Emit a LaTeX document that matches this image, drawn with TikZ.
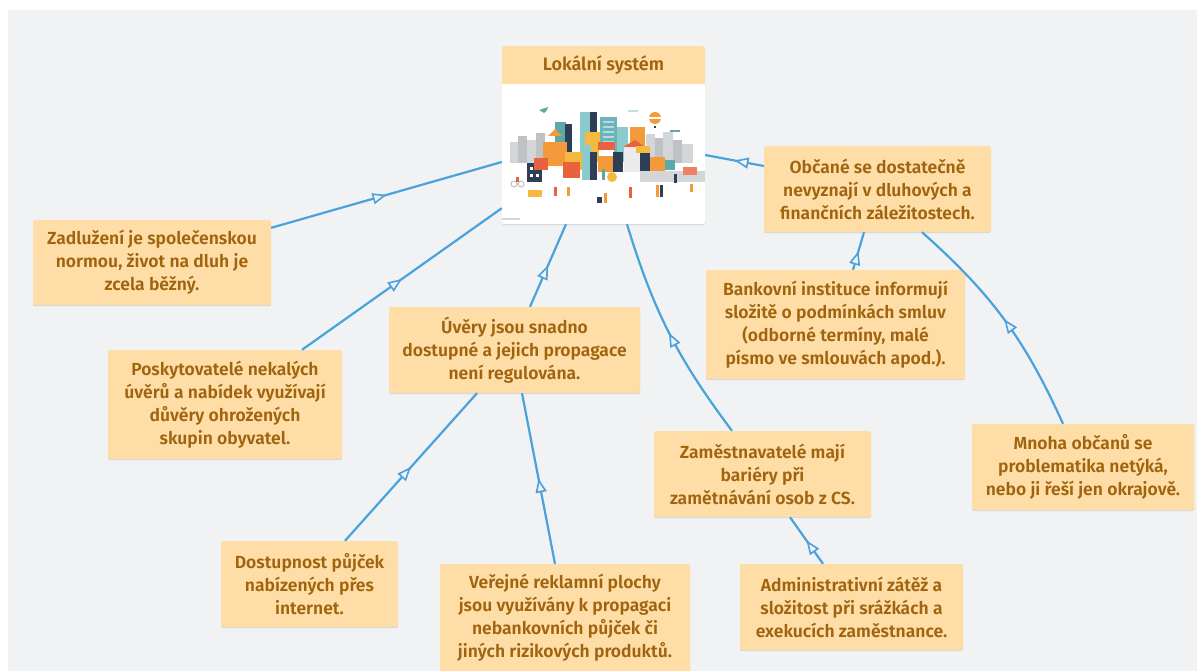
\documentclass[tikz,border=0pt]{standalone}
\usepackage{fontspec}
\setmainfont{Fira Sans}[BoldFont={Fira Sans SemiBold}]
\usetikzlibrary{arrows.meta,decorations.markings,shadows,calc}
\definecolor{bggrey}{HTML}{F1F2F4}
\definecolor{boxfill}{HTML}{FEDDA6}
\definecolor{txtc}{HTML}{A0640F}
\definecolor{edgec}{HTML}{4AA2DC}
\definecolor{teal1}{HTML}{5FA7A9}
\definecolor{teal2}{HTML}{8CCBCD}
\definecolor{teal3}{HTML}{6BB5BA}
\definecolor{navy}{HTML}{2E3F55}
\definecolor{orng}{HTML}{F39A3B}
\definecolor{redo}{HTML}{E8623D}
\definecolor{yell}{HTML}{F5B93F}
\definecolor{lgrey}{HTML}{D3D5D8}
\definecolor{mgrey}{HTML}{BFC1C4}
\tikzset{
  card/.style={rectangle, rounded corners=2pt, fill=boxfill, text=txtc,
    font=\fontsize{17.5}{23}\selectfont\bfseries, align=center, inner sep=0pt,
    drop shadow={shadow xshift=0pt, shadow yshift=-1.2pt, opacity=0.18, fill=black!60}},
  link/.style={draw=edgec, line width=2.2pt, postaction={decorate},
    decoration={markings, mark=at position 0.5 with {\arrow[edgec,line width=1.6pt]{Triangle[length=14pt,width=11pt,fill=bggrey]}}}},
}
\begin{document}
\begin{tikzpicture}[x=1pt,y=-1pt]
\useasboundingbox (0,0) rectangle (1197,671);
\fill[white] (0,0) rectangle (1197,671);
\fill[bggrey] (8,10) rectangle (1197,671);

% centre node
\node[rectangle, rounded corners=2pt, fill=white, minimum width=203pt, minimum height=178pt, inner sep=0pt,
  drop shadow={shadow xshift=0pt, shadow yshift=-1.2pt, opacity=0.18, fill=black!60}] (ctr) at (603.5,135) {};
\fill[boxfill, rounded corners=2pt] (502,46) rectangle (705,90);
\fill[boxfill] (502,70) rectangle (705,84);
\fill[white] (502,84) rectangle (705,92);
\node[text=txtc, font=\fontsize{18}{22}\selectfont\bfseries, inner sep=0pt] (ttl) at (603.5,65) {Lokální systém};

% city illustration
\begin{scope}
  % background grey buildings
  \fill[lgrey] (510,142) rectangle (518,163);
  \fill[mgrey] (518,136) rectangle (527,163);
  \fill[lgrey] (527,140) rectangle (536,163);
  \fill[mgrey] (536,133) rectangle (545,163);
  \fill[lgrey] (646,134) rectangle (655,163);
  \fill[mgrey] (655,138) rectangle (663,163);
  \fill[lgrey] (663,132) rectangle (673,163);
  \fill[mgrey] (673,140) rectangle (682,163);
  \fill[lgrey] (682,144) rectangle (693,163);
  % tall towers
  \fill[teal1] (555,122) rectangle (566,162);
  \fill[navy] (565,124) rectangle (572,162);
  \fill[teal2] (580,112) rectangle (592,162);
  \fill[navy] (590,112) rectangle (597,162);
  \fill[teal3] (600,117) rectangle (617,162);
  \foreach \yy in {121,126,...,156} {\fill[white,opacity=0.5] (603,\yy) rectangle (614,\yy+2);}
  \fill[teal2] (617,127) rectangle (628,162);
  \fill[orng] (630,127) rectangle (645,162);
  \fill[yell] (585,132) rectangle (600,162);
  \fill[orng] (543,142) rectangle (567,166);
  \fill[orng] (548,136) -- (555,129) -- (562,136) -- cycle;
  % front houses
  \fill[navy] (527,163) rectangle (542,182);
  \foreach \xx in {530,536} {\fill[white] (\xx,167) rectangle (\xx+3,170); \fill[white] (\xx,174) rectangle (\xx+3,177);}
  \fill[redo] (534,158) rectangle (548,170);
  \fill[yell] (565,152) rectangle (582,170);
  \fill[redo] (563,162) rectangle (580,178);
  \fill[teal2] (582,145) rectangle (591,180);
  \fill[navy] (590,152) rectangle (597,180);
  \fill[redo] (598,142) rectangle (615,150);
  \fill[white] (599,150) rectangle (614,156);
  \fill[orng] (598,156) rectangle (613,172);
  \fill[navy] (613,152) rectangle (623,172);
  \fill[redo] (623,147) -- (635,140) -- (645,147) -- cycle;
  \fill[white!92!black] (624,147) rectangle (642,172);
  \fill[yell] (636,146) rectangle (650,153);
  \fill[navy] (640,153) rectangle (650,172);
  \fill[orng] (650,157) rectangle (665,173);
  \fill[teal1] (665,160) rectangle (675,170);
  % road
  \fill[lgrey] (640,171) rectangle (705,182);
  \fill[redo!80] (683,167) rectangle (697,175);
  % sky items
  \fill[orng] (655,118) circle (6);
  \fill[white] (649,117) rectangle (661,119);
  \fill[navy] (654,126) rectangle (656,128);
  \fill[teal1] (539,110) -- (548,107) -- (547,110) -- (544,113) -- cycle;
  \fill[teal2!60] (628,110) rectangle (638,112);
  \fill[teal1] (670,130) rectangle (680,132);
  % people, cars, trees
  \draw[mgrey, line width=1pt] (514,184) circle (3) (521,184) circle (3);
  \fill[redo] (516,177) rectangle (519,182);
  \fill[yell] (528,190) rectangle (542,197);
  \fill[redo] (554,187) rectangle (557,196);
  \fill[orng] (567,187) rectangle (570,196);
  \fill[navy] (597,197) rectangle (602,203);
  \fill[orng] (604,193) rectangle (607,203);
  \fill[yell] (612,177) circle (5);
  \fill[teal1] (602,169) rectangle (605,180);
  \fill[redo] (629,187) rectangle (632,198);
  \fill[orng] (656,185) rectangle (659,197);
  \fill[navy] (660,185) rectangle (663,197);
  \fill[navy] (674,174) rectangle (677,183);
  \fill[orng] (690,184) rectangle (693,192);
  \fill[lgrey] (502,218) rectangle (520,220);
\end{scope}

% cards
\node[card, minimum width=238pt, minimum height=85pt] (zad) at (152,262.5)
  {Zadlužení je společenskou\\normou, život na dluh je\\zcela běžný.};
\node[card, minimum width=234pt, minimum height=109pt] (posk) at (225,404.5)
  {Poskytovatelé nekalých\\úvěrů a nabídek využívají\\důvěry ohrožených\\skupin obyvatel.};
\node[card, minimum width=251pt, minimum height=86pt] (uver) at (514.5,350)
  {Úvěry jsou snadno\\dostupné a jejich propagace\\není regulována.};
\node[card, minimum width=177pt, minimum height=86pt] (dost) at (309.5,584)
  {Dostupnost půjček\\nabízených přes\\internet.};
\node[card, minimum width=250pt, minimum height=108pt] (ver) at (565,618)
  {Veřejné reklamní plochy\\jsou využívány k propagaci\\nebankovních půjček či\\jiných rizikových produktů.};
\node[card, minimum width=217pt, minimum height=86pt] (zam) at (762.5,474)
  {Zaměstnavatelé mají\\bariéry při\\zamětnávání osob z CS.};
\node[card, minimum width=223pt, minimum height=86pt] (adm) at (851.5,607)
  {Administrativní zátěž a\\složitost při srážkách a\\exekucích zaměstnance.};
\node[card, minimum width=227pt, minimum height=86pt] (obc) at (877.5,189)
  {Občané se dostatečně\\nevyznají v dluhových a\\finančních záležitostech.};
\node[card, minimum width=259pt, minimum height=109pt] (bank) at (835.5,324.5)
  {Bankovní instituce informují\\složitě o podmínkách smluv\\(odborné termíny, malé\\písmo ve smlouvách apod.).};
\node[card, minimum width=222pt, minimum height=86pt] (mnoha) at (1083,467)
  {Mnoha občanů se\\problematika netýká,\\nebo ji řeší jen okrajově.};

% connectors
\draw[link] ([yshift=-8pt]zad.north east) -- ([yshift=-27pt]ctr.west);
\draw[link] ([xshift=77pt]posk.north) -- ([yshift=16pt]ctr.south west);
\draw[link] ([xshift=15.5pt]uver.north) -- ([xshift=-37.5pt]ctr.south);
\draw[link] ([xshift=35.5pt]dost.north) -- ([xshift=-37.5pt]uver.south);
\draw[link] ([xshift=-10pt]ver.north) -- ([xshift=7.5pt]uver.south);
\draw[link] ([xshift=-30.5pt]zam.north) to[bend left=10] ([xshift=23.5pt]ctr.south);
\draw[link] ([xshift=-28.5pt]adm.north) -- ([xshift=27.5pt]zam.south);
\draw[link] ([yshift=23pt]obc.west) -- ([yshift=-20pt]ctr.east);
\draw[link] ([xshift=17.5pt]bank.north) -- ([xshift=-13.5pt]obc.south);
\draw[link] ([xshift=-20pt]mnoha.north) to[bend right=12] ([xshift=44.5pt]obc.south);
\end{tikzpicture}
\end{document}
